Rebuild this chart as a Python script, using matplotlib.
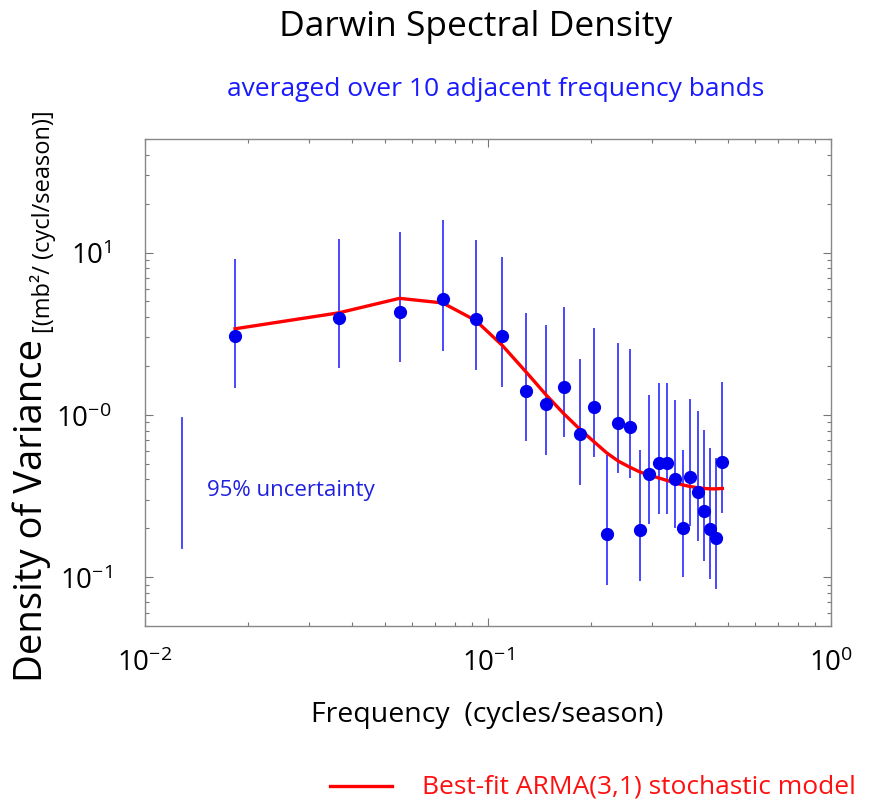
import numpy as np
import matplotlib
matplotlib.use('Agg')
import matplotlib.pyplot as plt
from matplotlib.ticker import FixedLocator, FixedFormatter, LogLocator, NullFormatter

plt.rcParams['font.family'] = ['Open Sans', 'DejaVu Sans']
plt.rcParams['mathtext.default'] = 'regular'

# band-averaged spectral estimates
freq = [0.0183, 0.0367, 0.0552, 0.0738, 0.0921, 0.110, 0.129, 0.148, 0.166,
        0.185, 0.203, 0.222, 0.240, 0.259, 0.277, 0.295, 0.314, 0.333,
        0.351, 0.370, 0.388, 0.408, 0.426, 0.445, 0.461, 0.482]
power = [3.06, 3.96, 4.29, 5.15, 3.91, 3.08, 1.40, 1.17, 1.48, 0.760,
         1.11, 0.184, 0.891, 0.839, 0.196, 0.433, 0.506, 0.506, 0.403,
         0.200, 0.413, 0.334, 0.256, 0.199, 0.174, 0.513]
err_hi = [9.10, 12.1, 13.3, 15.8, 11.9, 9.40, 4.25, 3.59, 4.60, 2.22,
          3.43, 0.568, 2.77, 2.53, 0.604, 1.32, 1.56, 1.56, 1.23,
          0.610, 1.26, 1.05, 0.801, 0.624, 0.542, 1.60]
err_lo = [1.46, 1.93, 2.12, 2.49, 1.88, 1.49, 0.687, 0.568, 0.726, 0.369,
          0.548, 0.0889, 0.438, 0.409, 0.0944, 0.212, 0.244, 0.244, 0.202,
          0.100, 0.207, 0.168, 0.126, 0.0976, 0.0848, 0.249]

# ARMA(3,1) fit evaluated at the same frequencies
arma = [3.39, 4.25, 5.22, 4.89, 3.81, 2.68, 1.84, 1.32, 1.02, 0.817,
        0.687, 0.582, 0.518, 0.476, 0.445, 0.425, 0.409, 0.394, 0.381,
        0.370, 0.362, 0.356, 0.352, 0.350, 0.350, 0.352]

# the "95% uncertainty" reference bar
unc_freq = 0.0128
unc_range = [0.151, 0.962]

yticks = [0.1, 1.0, 10.0]
ytick_labels = ['$10^{-1}$', '$10^{-0}$', '$10^{1}$']
xticks = [0.01, 0.1, 1.0]
xtick_labels = ['$10^{-2}$', '$10^{-1}$', '$10^{0}$']

fig = plt.figure(figsize=(8.74, 8.04), dpi=100)
ax = fig.add_axes([0.1659, 0.2201, 0.785, 0.6057])

freq = np.array(freq)
power = np.array(power)
yerr = np.array([power - np.array(err_lo), np.array(err_hi) - power])

ax.errorbar(freq, power, yerr=yerr, fmt='none', ecolor='#3a3aff', elinewidth=1.3, capsize=0)
ax.plot(freq, arma, color='#ff0000', lw=2.4, zorder=3)
ax.plot(freq, power, 'o', color='#0000ee', ms=8.5, zorder=4)

ax.plot([unc_freq, unc_freq], unc_range, color='#3a3aff', lw=1.3)
ax.text(0.0152, 0.347, '95% uncertainty', color='#2020e0', fontsize=16, va='center', ha='left')

ax.set_xscale('log')
ax.set_yscale('log')
ax.set_xlim(0.01, 1.0)
ax.set_ylim(0.05, 50)

ax.xaxis.set_major_locator(FixedLocator(xticks))
ax.xaxis.set_major_formatter(FixedFormatter(xtick_labels))
ax.yaxis.set_major_locator(FixedLocator(yticks))
ax.yaxis.set_major_formatter(FixedFormatter(ytick_labels))
ax.xaxis.set_minor_locator(LogLocator(base=10, subs=np.arange(2, 10)))
ax.yaxis.set_minor_locator(LogLocator(base=10, subs=np.arange(2, 10)))
ax.xaxis.set_minor_formatter(NullFormatter())
ax.yaxis.set_minor_formatter(NullFormatter())

ax.tick_params(which='both', direction='in', top=True, right=True, color='#777777', width=0.8)
ax.tick_params(which='major', length=6, labelsize=20)
ax.tick_params(which='minor', length=3)
ax.tick_params(axis='y', which='major', pad=24)
ax.tick_params(axis='x', which='major', pad=16)
for s in ax.spines.values():
    s.set_color('#888888')
    s.set_linewidth(1.0)

fig.text(476 / 874, 1 - 27 / 804, 'Darwin Spectral Density', fontsize=25.5, ha='center', va='center', color='black')
fig.text(496 / 874, 1 - 90 / 804, 'averaged over 10 adjacent frequency bands', fontsize=19,
         ha='center', va='center', color='#1a1aff')

fig.text(42 / 874, 1 - 682 / 804, 'Density of Variance', fontsize=27.5, rotation=90,
         rotation_mode='anchor', ha='left', va='baseline')
fig.text(50 / 874, 1 - 333 / 804, '[(mb²/ (cycl/season)]', fontsize=17, rotation=90,
         rotation_mode='anchor', ha='left', va='baseline')

fig.text(487 / 874, 1 - 715 / 804, 'Frequency  (cycles/season)', fontsize=20.5, ha='center', va='center')

fig.add_artist(plt.Line2D([330 / 874, 392 / 874], [1 - 787 / 804, 1 - 787 / 804], color='#ff0000', lw=2.4))
fig.text(422 / 874, 1 - 787 / 804, 'Best-fit ARMA(3,1) stochastic model', fontsize=19, color='#ff1010',
         ha='left', va='center')

fig.savefig('out.png', dpi=100, facecolor='white')
